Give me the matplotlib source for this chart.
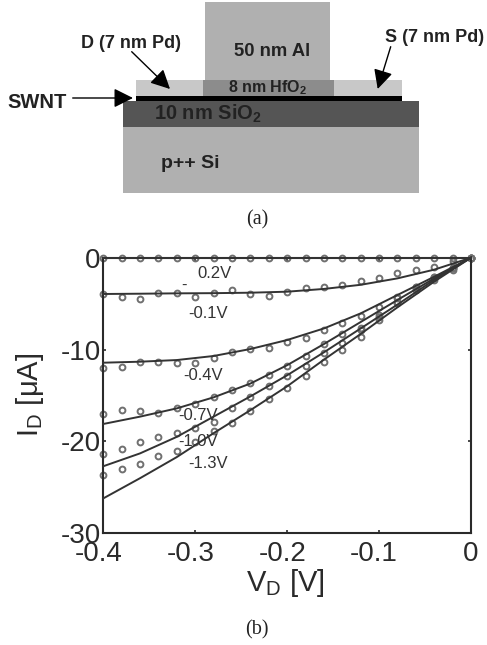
import matplotlib
matplotlib.use('Agg')
import matplotlib.pyplot as plt
from matplotlib.patches import Rectangle
from matplotlib.transforms import ScaledTranslation

plt.rcParams['font.family'] = ['Liberation Sans', 'DejaVu Sans']
plt.rcParams['mathtext.fontset'] = 'custom'
plt.rcParams['mathtext.rm'] = 'Liberation Sans'
plt.rcParams['mathtext.bf'] = 'Liberation Sans:bold'
plt.rcParams['mathtext.default'] = 'regular'

# measured points, every 0.02 V
vd_points = [-0.40, -0.38, -0.36, -0.34, -0.32, -0.30, -0.28, -0.26, -0.24, -0.22, -0.20,
             -0.18, -0.16, -0.14, -0.12, -0.10, -0.08, -0.06, -0.04, -0.02, 0.0]
pts_p02 = [0.0] * 21
pts_m01 = [-3.99, -4.24, -4.46, -3.81, -3.88, -4.24, -3.81, -3.52, -3.95, -4.13, -3.70,
           -3.26, -3.16, -2.97, -2.50, -2.18, -1.67, -1.34, -1.05, -0.33, 0.0]
pts_m04 = [-12.04, -11.86, -11.32, -11.32, -11.50, -11.50, -10.95, -10.30, -9.97, -9.87, -9.21,
           -8.71, -7.84, -7.15, -6.35, -5.33, -4.24, -3.16, -2.07, -1.16, 0.0]
pts_m07 = [-17.05, -16.58, -16.68, -16.94, -16.39, -15.92, -15.20, -14.40, -13.60, -12.77, -11.75,
           -10.66, -9.43, -8.34, -7.69, -6.24, -4.43, -3.16, -2.07, -1.16, 0.0]
pts_m10 = [-21.36, -20.82, -20.02, -19.48, -19.04, -18.57, -17.85, -16.32, -15.13, -13.96, -12.88,
           -11.75, -10.41, -9.25, -7.87, -6.42, -4.79, -3.34, -2.25, -1.16, 0.0]
pts_m13 = [-23.65, -23.00, -22.49, -21.55, -21.00, -20.02, -18.86, -17.95, -16.65, -15.42, -14.15,
           -12.84, -11.32, -10.05, -8.60, -6.78, -4.97, -3.52, -2.43, -1.34, 0.0]

# fitted curves, every 0.04 V
vd_fit = [-0.40, -0.36, -0.32, -0.28, -0.24, -0.20, -0.16, -0.12, -0.08, -0.04, 0.0]
fit_p02 = [0.0] * 11
fit_m01 = [-3.95, -3.92, -3.88, -3.86, -3.81, -3.70, -3.40, -2.95, -2.25, -1.30, 0.0]
fit_m04 = [-11.43, -11.32, -11.14, -10.70, -9.94, -8.96, -7.70, -6.06, -4.06, -2.07, 0.0]
fit_m07 = [-18.10, -17.30, -16.40, -15.20, -13.70, -11.70, -9.40, -7.00, -4.60, -2.25, 0.0]
fit_m10 = [-22.70, -21.30, -19.50, -17.30, -15.10, -12.80, -10.30, -7.70, -5.10, -2.40, 0.0]
fit_m13 = [-26.20, -24.00, -21.70, -19.10, -16.60, -14.00, -11.10, -8.30, -5.40, -2.60, 0.0]

all_pts = [pts_p02, pts_m01, pts_m04, pts_m07, pts_m10, pts_m13]
all_fit = [fit_p02, fit_m01, fit_m04, fit_m07, fit_m10, fit_m13]

x_ticks = [-0.4, -0.3, -0.2, -0.1, 0]
x_tick_labels = ['-0.4', '-0.3', '-0.2', '-0.1', '0']
y_ticks = [-30, -20, -10, 0]
y_tick_labels = ['-30', '-20', '-10', '0']

W, H = 487, 645
fig = plt.figure(figsize=(W / 100, H / 100), dpi=100)

# overlay in pixel coordinates for the device sketch and annotations
sketch = fig.add_axes([0, 0, 1, 1], zorder=3)
sketch.set_xlim(0, W)
sketch.set_ylim(H, 0)
sketch.axis('off')
sketch.patch.set_alpha(0)

# main plot
L, R, T, B = 103.3, 471, 257.7, 533.3
ax = fig.add_axes([L / W, 1 - B / H, (R - L) / W, (B - T) / H])
dark = '#2a2a2a'
for pts in all_pts:
    ax.plot(vd_points, pts, linestyle='none', marker='o', markersize=4.2,
            markerfacecolor='none', markeredgecolor='#707070', markeredgewidth=1.4,
            clip_on=False, zorder=2)
for fit in all_fit:
    ax.plot(vd_fit, fit, color='#333333', linewidth=1.4, zorder=3, clip_on=False)

ax.set_xlim(-0.4, 0)
ax.set_ylim(-30, 0)
ax.set_xticks(x_ticks)
ax.set_xticklabels(x_tick_labels)
ax.set_yticks(y_ticks)
ax.set_yticklabels(y_tick_labels)
ax.tick_params(direction='in', length=2.5, width=1.2, color=dark, top=True, right=True)
ax.tick_params(axis='x', labelsize=20, pad=5.5, labelcolor=dark)
ax.tick_params(axis='y', labelsize=20, pad=2, labelcolor=dark)
for s in ax.spines.values():
    s.set_linewidth(1.5)
    s.set_color(dark)

# negative x labels sit a little left of their ticks in the original
shift = ScaledTranslation(-5 / 100, 0, fig.dpi_scale_trans)
for lab in ax.get_xticklabels()[:-1]:
    lab.set_transform(lab.get_transform() + shift)

sketch.text(30, 395, r'$I_D$ [$\mu$A]', rotation=90, ha='center', va='center', fontsize=21, color=dark)
sketch.text(285, 583, r'$V_D$ [V]', ha='center', va='center', fontsize=21, color=dark)

curve_labels = [('0.2V', 215, 274), ('-', 184, 285), ('-0.1V', 208, 313), ('-0.4V', 203, 375),
                ('-0.7V', 198, 415), ('-1.0V', 198, 442), ('-1.3V', 208, 463)]
for txt, x, y in curve_labels:
    sketch.text(x, y, txt, ha='center', va='center', fontsize=12, color='#333333')

# device layers, bottom layers first
layers = [
    (204.7, 2.3, 125.3, 77.7, '#b0b0b0'),    # Al gate
    (135.7, 80, 266.6, 15.7, '#c8c8c8'),     # Pd contacts
    (203.3, 80, 130.7, 15.7, '#8c8c8c'),     # HfO2
    (135.7, 95.7, 266.6, 5.6, '#000000'),    # SWNT
    (123, 101.3, 296.3, 26, '#555555'),      # SiO2
    (123, 127.3, 296.3, 66, '#b0b0b0'),      # Si
]
for x, y, w, h, c in layers:
    sketch.add_patch(Rectangle((x, y), w, h, facecolor=c, edgecolor='none'))

layer_labels = [('50 nm Al', 272, 52, 13.3), (r'8 nm HfO$_\mathbf{2}$', 268, 88, 11.5),
                (r'10 nm SiO$_\mathbf{2}$', 208, 114, 14.5), ('p++ Si', 190, 163, 14),
                ('D (7 nm Pd)', 131, 44, 13), ('S (7 nm Pd)', 435, 37, 13)]
for txt, x, y, size in layer_labels:
    sketch.text(x, y, txt, ha='center', va='center', fontsize=size, fontweight='bold', color='#222222')
sketch.text(7, 102, 'SWNT', ha='left', va='center', fontsize=14.5, fontweight='bold', color='#222222')

arrows = [((131.7, 51.7), (170, 89)), ((390.7, 46.7), (377.7, 89)), ((72.7, 98), (133, 98))]
for start, end in arrows:
    sketch.annotate('', xy=end, xytext=start,
                    arrowprops=dict(arrowstyle='-|>,head_length=0.9,head_width=0.45', color='black',
                                    linewidth=1, shrinkA=0, shrinkB=0, mutation_scale=13))

sketch.text(257, 220, '(a)', ha='center', va='center', fontsize=14.5, family='Liberation Serif', color='#222222')
sketch.text(257, 630, '(b)', ha='center', va='center', fontsize=14.5, family='Liberation Serif', color='#222222')

plt.savefig('out.png', dpi=100)
